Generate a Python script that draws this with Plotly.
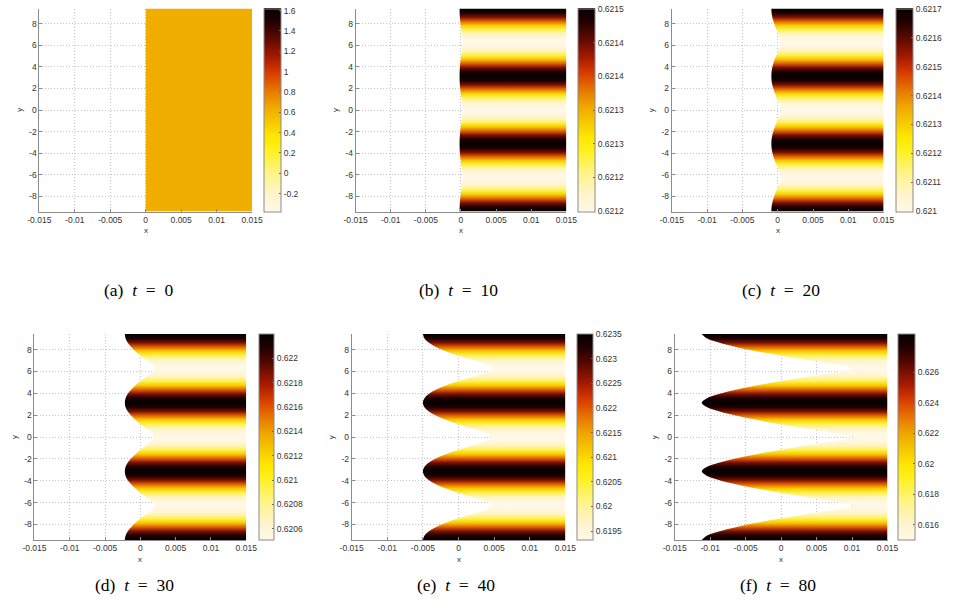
import numpy as np
import plotly.graph_objects as go
from plotly.colors import sample_colorscale, unlabel_rgb

PI = np.pi
Y_MIN, Y_MAX = -3 * PI, 3 * PI
N_KNOTS = 49          # knots every pi/8 from -3pi to 3pi
PERIOD_STEPS = 16     # knots per 2pi period

# ---------------- data ----------------
LETTERS = ["a", "b", "c", "d", "e", "f"]
TIMES = [0, 10, 20, 30, 40, 80]

# field value over half a period, from the light-band centre (phase 0)
# to the dark-band centre (phase pi), one value every pi/8
VAL_A = [0.62, 0.62, 0.62, 0.62, 0.62, 0.62, 0.62, 0.62, 0.62]
VAL_B = [0.621200, 0.621206, 0.621230, 0.621275, 0.621329, 0.621389, 0.621446, 0.621485, 0.621500]
VAL_C = [0.621000, 0.621014, 0.621070, 0.621175, 0.621301, 0.621441, 0.621574, 0.621665, 0.621700]
VAL_D = [0.620510, 0.620544, 0.620679, 0.620933, 0.621237, 0.621575, 0.621896, 0.622116, 0.622200]
VAL_E = [0.619320, 0.619404, 0.619738, 0.620365, 0.621117, 0.621953, 0.622748, 0.623291, 0.623500]
VAL_F = [0.615000, 0.615270, 0.616350, 0.618375, 0.620805, 0.623505, 0.626070, 0.627825, 0.628500]

# left edge (x) of the domain over the same half period
EDGE_A = [0.0, 0.0, 0.0, 0.0, 0.0, 0.0, 0.0, 0.0, 0.0]
EDGE_B = [0.00025, 0.00020, 0.00012, 0.00003, -0.00004, -0.00011, -0.00016, -0.00019, -0.00020]
EDGE_C = [0.00050, 0.00034, 0.00008, -0.00019, -0.00042, -0.00061, -0.00077, -0.00087, -0.00090]
EDGE_D = [0.00200, 0.00160, 0.00080, 0.00000, -0.00070, -0.00130, -0.00180, -0.00210, -0.00220]
EDGE_E = [0.00470, 0.00380, 0.00190, -0.00010, -0.00180, -0.00320, -0.00420, -0.00480, -0.00500]
EDGE_F = [0.01020, 0.00730, 0.00350, -0.00010, -0.00350, -0.00640, -0.00880, -0.01050, -0.01120]

# colour-axis limits
CRANGE_A = [-0.376, 1.62]
CRANGE_B = [0.6211995, 0.6215005]
CRANGE_C = [0.6209995, 0.6217005]
CRANGE_D = [0.620508, 0.6222]
CRANGE_E = [0.61932, 0.6235]
CRANGE_F = [0.6150, 0.6285]

# colour-bar ticks
CB_TICKS_A = [-0.2, 0, 0.2, 0.4, 0.6, 0.8, 1.0, 1.2, 1.4, 1.6]
CB_TEXT_A = ["-0.2", "0", "0.2", "0.4", "0.6", "0.8", "1", "1.2", "1.4", "1.6"]
CB_TICKS_B = [0.6212, 0.62125, 0.6213, 0.62135, 0.6214, 0.62145, 0.6215]
CB_TEXT_B = ["0.6212", "0.6212", "0.6213", "0.6213", "0.6214", "0.6214", "0.6215"]
CB_TICKS_C = [0.6210, 0.6211, 0.6212, 0.6213, 0.6214, 0.6215, 0.6216, 0.6217]
CB_TEXT_C = ["0.621", "0.6211", "0.6212", "0.6213", "0.6214", "0.6215", "0.6216", "0.6217"]
CB_TICKS_D = [0.6206, 0.6208, 0.6210, 0.6212, 0.6214, 0.6216, 0.6218, 0.6220]
CB_TEXT_D = ["0.6206", "0.6208", "0.621", "0.6212", "0.6214", "0.6216", "0.6218", "0.622"]
CB_TICKS_E = [0.6195, 0.6200, 0.6205, 0.6210, 0.6215, 0.6220, 0.6225, 0.6230, 0.6235]
CB_TEXT_E = ["0.6195", "0.62", "0.6205", "0.621", "0.6215", "0.622", "0.6225", "0.623", "0.6235"]
CB_TICKS_F = [0.616, 0.618, 0.620, 0.622, 0.624, 0.626]
CB_TEXT_F = ["0.616", "0.618", "0.62", "0.622", "0.624", "0.626"]

X_TICKS = [-0.015, -0.01, -0.005, 0, 0.005, 0.01, 0.015]
X_TEXT = ["-0.015", "-0.01", "-0.005", "0", "0.005", "0.01", "0.015"]
Y_TICKS = [-8, -6, -4, -2, 0, 2, 4, 6, 8]
Y_TEXT = ["-8", "-6", "-4", "-2", "0", "2", "4", "6", "8"]

VALS = [VAL_A, VAL_B, VAL_C, VAL_D, VAL_E, VAL_F]
EDGES = [EDGE_A, EDGE_B, EDGE_C, EDGE_D, EDGE_E, EDGE_F]
CRANGES = [CRANGE_A, CRANGE_B, CRANGE_C, CRANGE_D, CRANGE_E, CRANGE_F]
CB_TICKS = [CB_TICKS_A, CB_TICKS_B, CB_TICKS_C, CB_TICKS_D, CB_TICKS_E, CB_TICKS_F]
CB_TEXT = [CB_TEXT_A, CB_TEXT_B, CB_TEXT_C, CB_TEXT_D, CB_TEXT_E, CB_TEXT_F]

# reversed "hot"-like colour map as seen on the colour bars
COLORSCALE = [
    [0.00, "rgb(255,248,230)"],
    [0.08, "rgb(255,244,205)"],
    [0.18, "rgb(255,244,140)"],
    [0.30, "rgb(255,240,30)"],
    [0.36, "rgb(255,232,0)"],
    [0.45, "rgb(245,195,0)"],
    [0.52, "rgb(238,165,0)"],
    [0.60, "rgb(230,115,0)"],
    [0.68, "rgb(215,60,0)"],
    [0.76, "rgb(165,25,0)"],
    [0.86, "rgb(85,8,0)"],
    [0.94, "rgb(30,0,0)"],
    [1.00, "rgb(5,0,0)"],
]

# ---------------- layout geometry (pixels) ----------------
W, H = 960, 608
PLOT_X = [(28, 246), (352, 568), (676, 893), (23, 240), (348, 567), (679, 897)]
ROW_Y = [(8.5, 211.5), (334, 540)]
CB_X = [258, 580, 906, 253, 579, 908]
CB_W = [17, 17, 17, 15, 16, 17]
CAPTION_X = [130, 457, 788, 125, 455, 785]
CAPTION_Y = [290, 585]

Y_KNOTS = [Y_MIN + k * PI / 8 for k in range(N_KNOTS)]


def full_series(half):
    out = []
    for k in range(N_KNOTS):
        p = (k + 24) % PERIOD_STEPS
        out.append(half[p] if p <= 8 else half[PERIOD_STEPS - p])
    return out


def to_rgb(c):
    r, g, b = unlabel_rgb(c)
    return "rgb(%d,%d,%d)" % (round(r), round(g), round(b))


fig = go.Figure()
annotations = []
layout_axes = {}

for i in range(6):
    n = i + 1
    xa = "x" if n == 1 else "x%d" % n
    ya = "y" if n == 1 else "y%d" % n
    row = 0 if i < 3 else 1
    x0, x1 = PLOT_X[i]
    yt, yb = ROW_Y[row]
    cmin, cmax = CRANGES[i]
    vals = full_series(VALS[i])
    edge = full_series(EDGES[i])

    # colour bar carrier (invisible markers)
    fig.add_trace(go.Scatter(
        x=edge, y=Y_KNOTS, xaxis=xa, yaxis=ya, mode="markers",
        marker=dict(color=vals, colorscale=COLORSCALE, cmin=cmin, cmax=cmax,
                    opacity=0, size=1, showscale=True,
                    colorbar=dict(
                        x=CB_X[i] / W, xanchor="left", xpad=0, ypad=0,
                        y=1 - (yt + yb) / 2 / H, yanchor="middle",
                        lenmode="pixels", len=yb - yt,
                        thickness=CB_W[i], thicknessmode="pixels",
                        outlinewidth=1, outlinecolor="#8a8a8a",
                        tickmode="array", tickvals=CB_TICKS[i], ticktext=CB_TEXT[i],
                        ticks="inside", ticklen=2, tickcolor="#666",
                        tickfont=dict(family="Liberation Sans, Arial", size=8.5, color="#333"),
                    )),
        hoverinfo="skip", showlegend=False))

    # right edge of the field
    fig.add_trace(go.Scatter(
        x=[0.015, 0.015], y=[Y_MIN, Y_MAX], xaxis=xa, yaxis=ya, mode="lines",
        line=dict(width=0), hoverinfo="skip", showlegend=False))

    # field, filled from the left edge to the right edge with the colour profile
    fr = [min(1.0, max(0.0, (v - cmin) / (cmax - cmin))) for v in vals]
    cols = [to_rgb(c) for c in sample_colorscale(COLORSCALE, fr)]
    grad = [[(y - Y_MIN) / (Y_MAX - Y_MIN), c] for y, c in zip(Y_KNOTS, cols)]
    grad[0][0] = 0.0
    grad[-1][0] = 1.0
    fig.add_trace(go.Scatter(
        x=edge, y=Y_KNOTS, xaxis=xa, yaxis=ya, mode="lines",
        line=dict(width=0, shape="spline", smoothing=1.0),
        fill="tonextx",
        fillgradient=dict(type="vertical", colorscale=grad, start=Y_MIN, stop=Y_MAX),
        hoverinfo="skip", showlegend=False))

    axis_common = dict(
        showgrid=True, gridcolor="#c4c4c4", griddash="1px,2px", gridwidth=1,
        showline=True, linecolor="#8c8c8c", linewidth=1,
        ticks="inside", ticklen=3, tickcolor="#8c8c8c",
        tickfont=dict(family="Liberation Sans, Arial", size=8.5, color="#333"),
        zeroline=False, tickmode="array", fixedrange=True,
    )
    layout_axes["xaxis" if n == 1 else "xaxis%d" % n] = dict(
        axis_common, domain=[x0 / W, x1 / W], anchor=ya,
        range=[-0.015, 0.015], tickvals=X_TICKS, ticktext=X_TEXT)
    layout_axes["yaxis" if n == 1 else "yaxis%d" % n] = dict(
        axis_common, domain=[1 - yb / H, 1 - yt / H], anchor=xa,
        range=[Y_MIN, Y_MAX], tickvals=Y_TICKS, ticktext=Y_TEXT)

    # axis titles
    annotations.append(dict(
        text="x", xref="paper", yref="paper", x=(x0 + x1) / 2 / W, y=1 - (yb + 19) / H,
        showarrow=False, font=dict(family="Liberation Sans, Arial", size=8, color="#333"),
        xanchor="center", yanchor="middle"))
    annotations.append(dict(
        text="y", xref="paper", yref="paper", x=(x0 - 21) / W, y=1 - (yt + yb) / 2 / H,
        showarrow=False, textangle=-90,
        font=dict(family="Liberation Sans, Arial", size=8, color="#333"),
        xanchor="center", yanchor="middle"))
    # caption
    annotations.append(dict(
        text="(%s)&nbsp;&nbsp;<i>t</i>&nbsp;&nbsp;=&nbsp;&nbsp;%d" % (LETTERS[i], TIMES[i]),
        xref="paper", yref="paper", x=CAPTION_X[i] / W, y=1 - CAPTION_Y[row] / H,
        showarrow=False, font=dict(family="Liberation Serif, Times New Roman, serif", size=17.5, color="#000"),
        xanchor="center", yanchor="middle"))

fig.update_layout(
    width=W, height=H, margin=dict(l=0, r=0, t=0, b=0),
    paper_bgcolor="white", plot_bgcolor="white",
    showlegend=False, annotations=annotations, **layout_axes)

fig.write_html("out.html")
